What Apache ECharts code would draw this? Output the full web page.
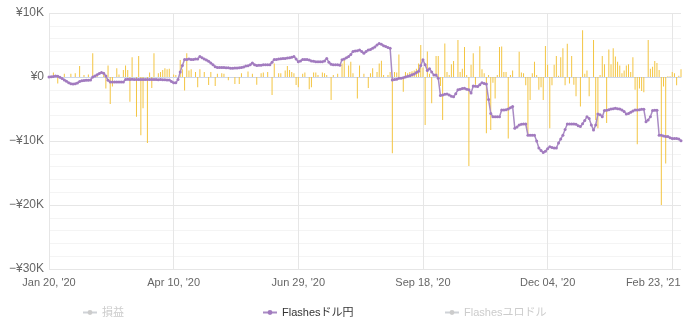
<!DOCTYPE html>
<html>
<head>
<meta charset="utf-8">
<script src="https://cdn.jsdelivr.net/npm/echarts@6/dist/echarts.min.js"></script>
<style>
html,body{margin:0;padding:0;background:#fff;}
#chart{width:686px;height:332px;}
</style>
</head>
<body>
<div id="chart"></div>
<script>
// x tick labels (every 57th category)
const xTickLabels = ["Jan 20, '20", "Apr 10, '20", "Jun 29, '20", "Sep 18, '20", "Dec 04, '20", "Feb 23, '21"];
const legendNames = ['損益', 'Flashesドル円', 'Flashesユロドル'];

// daily bars (yen)
const barValues = [
0,0,700,0,-1000,0,0,500,0,0,
500,0,600,0,1700,0,300,0,400,0,
3700,0,400,0,0,600,-1800,1800,-4200,-1500,
0,1350,400,0,1100,1800,1100,-3850,3100,0,
-6200,3300,-9100,-4900,0,-10300,700,-1700,3700,0,
600,800,1100,1350,1200,1300,0,400,300,0,
2650,1200,-2100,3700,1000,1200,0,800,-1600,1200,
0,800,0,-1250,800,0,-1400,500,0,600,
500,0,-500,0,0,-1100,0,-1100,600,0,
0,850,0,500,0,-1200,0,600,700,0,
800,0,-2800,2100,0,600,600,0,1000,1700,
1100,800,600,-1250,-1600,0,500,700,0,-1900,
-1600,700,700,300,0,700,600,300,0,-3600,
300,0,500,0,2100,2650,0,1800,2400,600,
0,-3350,1800,0,500,0,-1700,600,1350,0,
800,2100,2550,300,0,300,800,-11900,800,700,
3500,0,-2300,800,600,800,900,1000,1300,2100,
5000,1500,-7500,4000,500,-4100,0,3300,3300,-1400,
-6700,5250,800,300,2000,2500,0,5800,800,1300,
4700,300,-13900,1900,3700,-1200,0,4800,1200,600,
-8800,300,-8300,-900,-3350,300,4700,4750,800,800,
-9600,300,1000,0,0,3950,700,600,-1300,-9100,
-3600,600,2400,300,-2000,-1600,-3600,4850,1900,-8000,
-1300,1900,3300,200,3100,4500,-1300,5200,-1000,3300,
-1200,-3000,0,-4600,7300,500,1000,-3000,0,5800,
-6700,-8000,300,3300,2000,-7200,4300,2000,4500,3200,
2400,1800,600,1000,1800,2000,800,3100,-2000,-10500,
-1800,-2200,-2400,0,5800,1300,1600,2500,2200,1100,
-20000,-1500,-13500,100,100,800,600,-1300,200,1200
];

// Flashesドル円 line (yen)
const lineValues = [
0,30,80,150,120,-50,-250,-450,-650,-900,
-1050,-1100,-1050,-950,-700,-600,-550,-500,-500,-450,
0,150,350,550,700,600,150,-500,-800,-800,
-800,-800,-800,-800,-800,-400,-370,-380,-370,-380,
-400,-380,-400,-380,-400,-390,-400,-400,-390,-400,
-420,-400,-420,-430,-450,-450,-700,-900,-900,-400,
800,1800,2750,2750,2800,2750,2750,2800,2800,3200,
3000,2800,2650,2450,2200,1900,1600,1500,1500,1500,
1500,1450,1450,1350,1350,1400,1400,1450,1500,1550,
1700,1750,1900,2200,1900,1800,1850,1850,1900,1900,
1900,1900,2300,2750,2750,2800,2850,2900,2900,2950,
3000,3100,3200,2800,2400,2500,2750,2750,2750,2650,
2500,2450,2400,2400,2400,2400,2500,2900,2300,2000,
1900,1900,1900,1850,2700,2800,3000,3200,3500,4000,
4050,4100,4200,4000,3700,4000,4200,4300,4500,4700,
5000,5250,5100,4900,4750,4600,4500,-450,-400,-350,
-200,-200,-100,0,100,200,350,450,700,900,
1800,2700,1900,1000,1300,800,300,300,-200,-2900,
-2800,-2700,-2650,-2800,-3000,-3100,-2600,-2000,-1900,-1800,
-1770,-1900,-2000,-2500,-1400,-1450,-1500,-1200,-900,-1000,
-1100,-3500,-5700,-6200,-6200,-6200,-6200,-5150,-5150,-5100,
-5000,-4800,-4600,-8000,-7800,-7500,-7400,-7350,-7350,-9100,
-9100,-9100,-9100,-10000,-11100,-11500,-11800,-11600,-11200,-10900,
-11000,-11100,-11100,-10300,-9700,-9100,-8200,-7350,-7350,-7350,
-7350,-7400,-7600,-7750,-7300,-6800,-6200,-6500,-7500,-8300,
-7500,-5800,-5900,-6200,-5250,-5200,-5100,-5000,-4950,-4900,
-4950,-5000,-5150,-5400,-5800,-5700,-5500,-5300,-5150,-5150,
-5100,-5050,-5050,-7000,-6700,-6200,-5250,-5200,-5200,-9100,
-9100,-9200,-9300,-9300,-9500,-9600,-9600,-9600,-9700,-9950
];

// categories: trading days from Jan 20, 2020
const categories = [];
(function(){
  const d = new Date(Date.UTC(2020, 0, 20));
  while (categories.length < lineValues.length) {
    const wd = d.getUTCDay();
    if (wd !== 0 && wd !== 6) categories.push(d.toISOString().slice(0, 10));
    d.setUTCDate(d.getUTCDate() + 1);
  }
})();

const FONT = '"Liberation Sans", Arial, "Noto Sans CJK JP", sans-serif';
const LABEL_STEP = 57;

const chart = echarts.init(document.getElementById('chart'), null, {renderer: 'canvas'});

function legendCfg(name, left) {
  return {
    data: [name],
    left: left,
    top: 307,
    padding: 0,
    itemWidth: 14,
    itemHeight: 6,
    itemGap: 6,
    inactiveColor: '#cccccc',
    inactiveBorderColor: '#cccccc',
    textStyle: {fontFamily: FONT, fontSize: 11, color: '#333', padding: [0, 0, 0, 0]},
    selected: {'損益': false, 'Flashesユロドル': false}
  };
}

chart.setOption({
  animation: false,
  backgroundColor: '#ffffff',
  grid: {left: 49, right: 5, top: 13, bottom: 63, containLabel: false},
  legend: [
    legendCfg(legendNames[0], 82),
    legendCfg(legendNames[1], 262),
    legendCfg(legendNames[2], 444)
  ],
  xAxis: {
    type: 'category',
    data: categories,
    boundaryGap: false,
    axisLine: {show: true, lineStyle: {color: '#ccd6eb', width: 1}},
    axisTick: {show: false},
    axisLabel: {
      interval: LABEL_STEP - 1,
      margin: 8,
      color: '#666',
      fontFamily: FONT,
      fontSize: 11,
      formatter: function (v, i) {
        const k = i / LABEL_STEP;
        if (k === xTickLabels.length - 1) return '{last|' + xTickLabels[k] + '}';
        return xTickLabels[k] || '';
      },
      rich: {last: {padding: [0, 38, 0, 0], color: '#666', fontFamily: FONT, fontSize: 11}}
    },
    splitLine: {show: true, interval: LABEL_STEP - 1, lineStyle: {color: '#e6e6e6', width: 1}}
  },
  yAxis: {
    type: 'value',
    min: -30000,
    max: 10000,
    interval: 10000,
    axisLine: {show: false},
    axisTick: {show: false},
    axisLabel: {
      color: '#666',
      fontFamily: FONT,
      fontSize: 12,
      margin: 5,
      formatter: function (v) {
        if (v === 0) return '¥0';
        return (v < 0 ? '−¥' : '¥') + Math.abs(v / 1000) + 'K';
      }
    },
    splitLine: {lineStyle: {color: '#e6e6e6', width: 1}},
    minorTick: {show: false, splitNumber: 5},
    minorSplitLine: {show: true, lineStyle: {color: '#f4f4f4', width: 1}}
  },
  series: [
    {
      name: 'daily',
      type: 'bar',
      data: barValues,
      barWidth: 1,
      itemStyle: {color: '#f3c542'},
      z: 2
    },
    {
      name: '損益',
      type: 'line',
      data: [],
      symbol: 'circle',
      symbolSize: 4,
      itemStyle: {color: '#7cb5ec'},
      lineStyle: {color: '#7cb5ec', width: 1}
    },
    {
      name: 'Flashesドル円',
      type: 'line',
      data: lineValues,
      symbol: 'circle',
      symbolSize: 3,
      showSymbol: true,
      showAllSymbol: true,
      itemStyle: {color: '#a27bbf'},
      lineStyle: {color: '#a98bc4', width: 1.5},
      z: 3
    },
    {
      name: 'Flashesユロドル',
      type: 'line',
      data: [],
      symbol: 'circle',
      symbolSize: 4,
      itemStyle: {color: '#90ed7d'},
      lineStyle: {color: '#90ed7d', width: 1}
    }
  ]
});
</script>
</body>
</html>
